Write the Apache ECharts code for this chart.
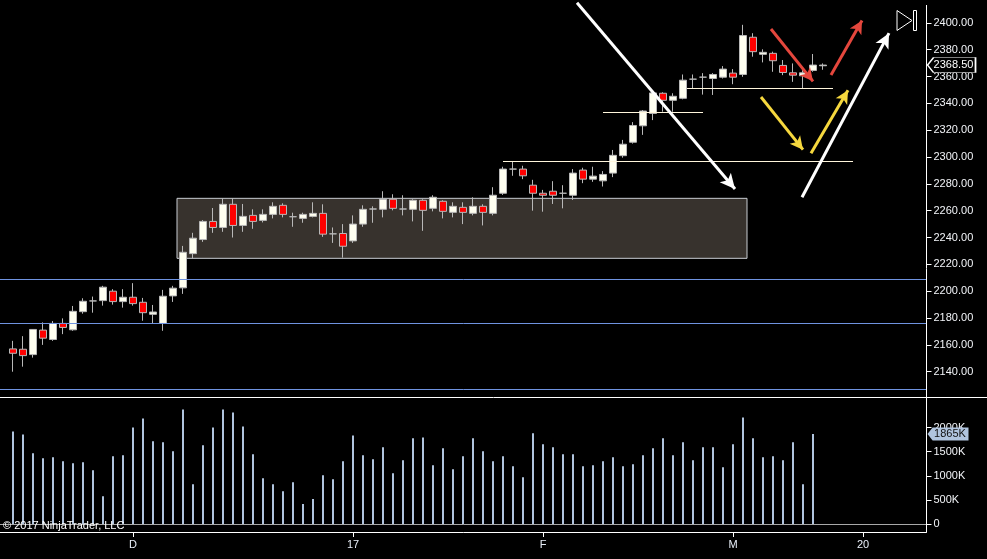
<!DOCTYPE html>
<html>
<head>
<meta charset="utf-8">
<title>Daily chart with volume</title>
<script src="https://cdn.jsdelivr.net/npm/echarts@6.0.0/dist/echarts.min.js"></script>
<style>
  html, body { margin: 0; padding: 0; background: #000; }
  #chart { width: 987px; height: 559px; }
</style>
</head>
<body>
<div id="chart"></div>
<script>
// daily bars, left to right
const opens = [2157, 2156.75, 2152.75, 2171, 2164, 2176, 2171.25, 2184.75, 2192.75, 2193,
  2200, 2192.25, 2195.5, 2191.75, 2182.75, 2176, 2196.5, 2202.5, 2228, 2238.5,
  2252, 2247.5, 2264.75, 2249, 2256.5, 2252.75, 2257.25, 2264, 2255.5, 2254.25,
  2255.75, 2258, 2242.75, 2243, 2237.5, 2250, 2261.25, 2261, 2268.5, 2261.25,
  2261, 2267.75, 2261.75, 2267, 2258.75, 2262.5, 2258, 2263.25, 2258, 2273,
  2291, 2291, 2279, 2273, 2274.5, 2273, 2271.5, 2290.25, 2283.5, 2282.25,
  2288, 2301, 2311, 2323.25, 2332.5, 2347.5, 2342.25, 2343.75, 2358, 2359.5,
  2358.5, 2359.5, 2362.5, 2361.5, 2389.25, 2376.5, 2377.25, 2368.25, 2362.75, 2360.5,
  2364.5, 2368];
const closes = [2153.75, 2152, 2171.5, 2165, 2176, 2173, 2185, 2192.5, 2192.75, 2203,
  2192.25, 2195.5, 2190.75, 2184, 2184.5, 2196.25, 2202.25, 2229, 2239.5, 2252,
  2247.5, 2264.75, 2249, 2255.75, 2252, 2257.25, 2263.25, 2257.25, 2255.5, 2257.25,
  2258, 2242.5, 2242.75, 2233.5, 2250, 2261, 2261.25, 2268.5, 2261.75, 2261.25,
  2267.75, 2260.25, 2270, 2259.5, 2263.25, 2258.75, 2263.25, 2258.75, 2271.5, 2291,
  2291, 2286, 2273, 2271.5, 2271.5, 2273, 2288, 2283.5, 2285.75, 2287,
  2301.25, 2309.5, 2323.5, 2334.25, 2347.75, 2342.25, 2345.25, 2357.25, 2358, 2359.5,
  2361.5, 2365.5, 2359.5, 2390.5, 2378.5, 2378, 2371.75, 2363, 2361, 2362.75,
  2368.5, 2368.5];
const lows = [2140, 2143.75, 2150.5, 2160, 2163, 2168, 2170.5, 2183.25, 2184, 2189.25,
  2190, 2187.75, 2189.25, 2178, 2176, 2170.5, 2192, 2198, 2224.5, 2236.75,
  2243.5, 2244.25, 2240, 2244.25, 2246.5, 2251.25, 2254.25, 2255, 2248, 2251,
  2255, 2240.5, 2236, 2225, 2236, 2248, 2251, 2255, 2260.25, 2256.5,
  2252, 2245, 2259.5, 2254.25, 2255, 2250, 2256.5, 2249, 2256.5, 2271.75,
  2286, 2283.5, 2260, 2259.25, 2265, 2261.75, 2268, 2280.5, 2281.5, 2278,
  2285, 2299.5, 2310, 2316.5, 2327.5, 2333.75, 2333.75, 2343, 2351.25, 2346.5,
  2346.25, 2358.5, 2354.25, 2359.75, 2374.75, 2370.5, 2363.5, 2361, 2356, 2351.25,
  2363.5, 2365];
const highs = [2163, 2166.5, 2171.75, 2176.75, 2177.75, 2179.75, 2189, 2194.75, 2196, 2204,
  2201.5, 2201.5, 2206, 2195, 2189.75, 2201, 2204, 2233.75, 2243.5, 2253,
  2262, 2269.25, 2269.25, 2265, 2261, 2261, 2266.25, 2265.5, 2258.5, 2258.5,
  2266.25, 2264.75, 2247.5, 2250, 2256.5, 2264, 2263.25, 2274.5, 2272.25, 2271.5,
  2268.5, 2268.5, 2271.5, 2267.75, 2266.25, 2266.25, 2270, 2264.75, 2277.5, 2292.75,
  2297, 2293.5, 2283, 2275.5, 2282, 2279, 2291, 2292, 2292.75, 2289.5,
  2305.25, 2312.75, 2326, 2335, 2350, 2348.25, 2347.5, 2361.5, 2361.5, 2362.5,
  2362.5, 2367.75, 2365.5, 2398.5, 2392.25, 2380.25, 2378.5, 2372.25, 2369.75, 2364.75,
  2376.75, 2369.75];
// volume in thousands
const volumesK = [1920, 1858, 1467, 1364, 1385, 1302, 1261, 1282, 1117, 582,
  1405, 1426, 2002, 2187, 1714, 1693, 1508, 2372, 829, 1632,
  2002, 2372, 2311, 2023, 1447, 953, 829, 685, 870, 418,
  521, 1014, 932, 1302, 1837, 1426, 1344, 1591, 1056, 1323,
  1776, 1796, 1220, 1570, 1138, 1405, 1776, 1508, 1302, 1405,
  1200, 973, 1879, 1652, 1591, 1447, 1447, 1200, 1220, 1302,
  1385, 1200, 1241, 1426, 1570, 1776, 1426, 1693, 1323, 1591,
  1591, 1179, 1652, 2208, 1776, 1385, 1405, 1323, 1693, 829,
  1865];

const dayTicks = [12, 34, 53, 72, 85];
const dayLabels = ["D", "17", "F", "M", "20"];
const priceTicks = [2140, 2160, 2180, 2200, 2220, 2240, 2260, 2280, 2300, 2320, 2340, 2360, 2380, 2400];
const volumeTicks = [0, 500, 1000, 1500, 2000];

// drawn objects, in bar index / price units
const blueLevels = [2208.9, 2176.1, 2127.1];
const levelSegments = [[49.0, 84.0, 2296.8], [59.0, 69.0, 2333.3], [67.4, 82.0, 2351.2]];
const rangeBox = [16.4, 73.4, 2224.5, 2269.2];
const whiteArrows = [[56.4, 2415.0, 72.2, 2276.2], [78.9, 2270.0, 87.6, 2392.3]];
const redArrows = [[75.8, 2395.4, 80.0, 2356.4], [81.8, 2361.1, 84.9, 2401.7]];
const yellowArrows = [[74.8, 2344.7, 79.0, 2305.5], [79.8, 2302.8, 83.5, 2349.7]];

document.addEventListener("DOMContentLoaded", function () {
  const chart = echarts.init(document.getElementById("chart"));
  const font = "'Liberation Sans', Arial, sans-serif";
  const xMin = -1.3;
  const xMax = 91.35;
  const lastClose = closes[closes.length - 1];
  const lastVol = volumesK[volumesK.length - 1];
  const tagPath = "path://M0,7 L6,0 L48,0 L48,14 L6,14 Z";

  const candles = opens.map((o, i) => [i, o, closes[i], lows[i], highs[i]]);
  const volumeBars = volumesK.map((v, i) => [i, v]);

  // empty series that only carries drawn lines / arrows on the price pane
  function lineSeries(lines, color, width, symbol, head) {
    return {
      type: "line",
      data: [],
      xAxisIndex: 0,
      yAxisIndex: 0,
      silent: true,
      markLine: {
        silent: true,
        animation: false,
        symbol: symbol,
        symbolSize: head,
        label: { show: false },
        emphasis: { disabled: true },
        lineStyle: { color: color, width: width, type: "solid", opacity: 1 },
        data: lines,
      },
    };
  }

  const arrowPairs = (list) => list.map((a) => [{ coord: [a[0], a[1]] }, { coord: [a[2], a[3]] }]);

  const option = {
    animation: false,
    backgroundColor: "#000",
    textStyle: { fontFamily: font },
    grid: [
      { left: 0, right: 60.5, top: 0, height: 397 },
      { left: 0, right: 60.5, top: 399, bottom: 34.7 },
    ],
    xAxis: [
      { type: "value", gridIndex: 0, min: xMin, max: xMax, show: false, axisLine: { onZero: false } },
      {
        type: "value",
        gridIndex: 1,
        min: xMin,
        max: xMax,
        position: "bottom",
        offset: 7.7,
        axisLine: { show: true, onZero: false, lineStyle: { color: "#fff", width: 1 } },
        axisTick: { show: true, length: 5, customValues: dayTicks, lineStyle: { color: "#fff" } },
        axisLabel: {
          customValues: dayTicks,
          color: "#e8eef8",
          fontSize: 11,
          margin: 7,
          formatter: function (v) {
            const k = dayTicks.indexOf(v);
            return k >= 0 ? dayLabels[k] : "";
          },
        },
        splitLine: { show: false },
      },
    ],
    yAxis: [
      {
        type: "value",
        gridIndex: 0,
        position: "right",
        min: 2121.16,
        max: 2417.0,
        axisLine: { show: false, onZero: false },
        axisTick: { show: true, length: 5, customValues: priceTicks, lineStyle: { color: "#fff" } },
        axisLabel: {
          customValues: priceTicks,
          color: "#f2f4f8",
          fontSize: 11,
          margin: 7,
          formatter: (v) => v.toFixed(2),
        },
        splitLine: { show: false },
      },
      {
        type: "value",
        gridIndex: 1,
        position: "right",
        min: 0,
        max: 2589,
        axisLine: { show: false, onZero: false },
        axisTick: { show: true, length: 5, customValues: volumeTicks, lineStyle: { color: "#fff" } },
        axisLabel: {
          customValues: volumeTicks,
          color: "#f2f4f8",
          fontSize: 11,
          margin: 7,
          formatter: (v) => (v === 0 ? "0" : v + "K"),
        },
        splitLine: { show: false },
      },
    ],
    series: [
      {
        name: "Price",
        type: "candlestick",
        xAxisIndex: 0,
        yAxisIndex: 0,
        data: candles,
        encode: { x: 0, y: [1, 2, 3, 4] },
        barWidth: 7,
        silent: true,
        itemStyle: {
          color: "#fffff0",
          color0: "#ff0000",
          borderColor: "#b8b8b8",
          borderColor0: "#b8b8b8",
          borderColorDoji: "#b8b8b8",
          borderWidth: 1,
        },
        markArea: {
          silent: true,
          itemStyle: { color: "#37322d", borderColor: "#c8ccd2", borderWidth: 1 },
          label: { show: false },
          data: [[{ coord: [rangeBox[0], rangeBox[3]] }, { coord: [rangeBox[1], rangeBox[2]] }]],
        },
        markPoint: {
          silent: true,
          animation: false,
          symbol: tagPath,
          symbolSize: [48, 15],
          symbolKeepAspect: false,
          symbolOffset: [25, 0],
          itemStyle: { color: "#000", borderColor: "#fff", borderWidth: 1 },
          label: {
            show: true,
            position: "inside",
            offset: [2, 0],
            formatter: lastClose.toFixed(2),
            color: "#fff",
            fontSize: 11,
          },
          data: [{ coord: [xMax, lastClose] }],
        },
      },
      {
        name: "Volume",
        type: "bar",
        xAxisIndex: 1,
        yAxisIndex: 1,
        data: volumeBars,
        barWidth: 2,
        silent: true,
        itemStyle: { color: "#b0c4de" },
        markLine: {
          silent: true,
          animation: false,
          symbol: "none",
          label: { show: false },
          emphasis: { disabled: true },
          lineStyle: { color: "#a8a8a8", width: 1, type: "solid" },
          data: [{ yAxis: 0 }],
        },
        markPoint: {
          silent: true,
          animation: false,
          symbol: tagPath,
          symbolSize: [41, 13],
          symbolKeepAspect: false,
          symbolOffset: [21.5, 0],
          itemStyle: { color: "#b0c4de" },
          label: {
            show: true,
            position: "inside",
            offset: [2, 0],
            formatter: lastVol + "K",
            color: "#111",
            fontSize: 11,
          },
          data: [{ coord: [xMax, lastVol] }],
        },
      },
      lineSeries(blueLevels.map((y) => ({ yAxis: y })), "#6f93e0", 1, "none", 0),
      lineSeries(levelSegments.map((s) => [{ coord: [s[0], s[2]] }, { coord: [s[1], s[2]] }]), "#fff6dc", 1, "none", 0),
      lineSeries(arrowPairs(whiteArrows), "#ffffff", 3, ["none", "arrow"], [11, 15]),
      lineSeries(arrowPairs(redArrows), "#e5473d", 3, ["none", "arrow"], [10, 13]),
      lineSeries(arrowPairs(yellowArrows), "#f6d83e", 3, ["none", "arrow"], [10, 13]),
    ],
    graphic: [
      { type: "line", z: 50, silent: true, shape: { x1: 0, y1: 397.5, x2: 987, y2: 397.5 }, style: { stroke: "#fff", lineWidth: 1 } },
      { type: "line", z: 50, silent: true, shape: { x1: 926.5, y1: 5, x2: 926.5, y2: 532 }, style: { stroke: "#fff", lineWidth: 1 } },
      { type: "polygon", z: 50, silent: true, shape: { points: [[897, 10.5], [897, 30.5], [912, 20.5]] }, style: { fill: "none", stroke: "#fff", lineWidth: 1 } },
      { type: "rect", z: 50, silent: true, shape: { x: 913.5, y: 10.5, width: 3, height: 20 }, style: { fill: "none", stroke: "#fff", lineWidth: 1 } },
      { type: "text", z: 50, silent: true, left: 3, top: 520, style: { text: "\u00a9 2017 NinjaTrader, LLC", fill: "#fff", font: "11px " + font } },
    ],
  };
  chart.setOption(option);
  window.addEventListener("resize", function () {
    chart.resize();
  });
});
</script>
</body>
</html>
